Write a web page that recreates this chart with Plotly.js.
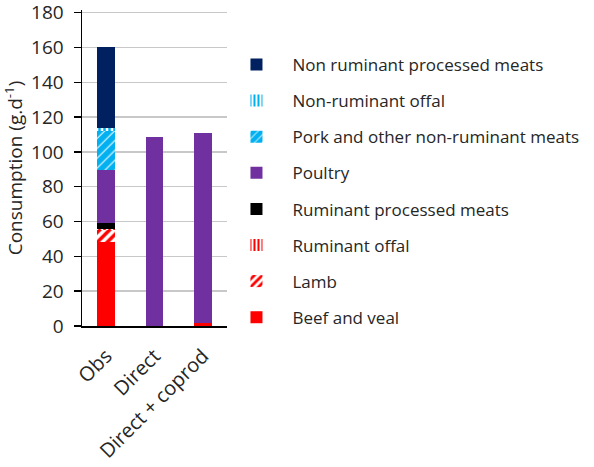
<!DOCTYPE html>
<html>
<head>
<meta charset="utf-8">
<script src="https://cdn.plot.ly/plotly-3.0.1.min.js"></script>
<style>html,body{margin:0;padding:0;background:#fff;}#chart{width:594px;height:467px;}</style>
</head>
<body>
<div id="chart"></div>
<script>
// Categories (scenarios)
var categories = ["Obs", "Direct", "Direct + coprod"];

// Series values (g/d), bottom to top of the stack
var beefVeal            = [48.3, 0, 1.9];
var lamb                = [7.0, 0, 0];
var ruminantOffal       = [0.2, 0, 0];
var ruminantProcessed   = [3.6, 0, 0];
var poultry             = [30.6, 108.4, 108.8];
var porkOtherNonRum     = [22.5, 0, 0];
var nonRuminantOffal    = [1.5, 0, 0];
var nonRuminantProcessed= [46.4, 0, 0];

var seriesNames = [
  "Beef and veal", "Lamb", "Ruminant offal", "Ruminant processed meats",
  "Poultry", "Pork and other non-ruminant meats", "Non-ruminant offal",
  "Non ruminant processed meats"
];
var seriesValues = [beefVeal, lamb, ruminantOffal, ruminantProcessed,
  poultry, porkOtherNonRum, nonRuminantOffal, nonRuminantProcessed];

var yTicks = [0, 20, 40, 60, 80, 100, 120, 140, 160, 180];

// Styles
var fills = [
  {color: "#ff0000"},
  {color: "#ffffff", pattern: {shape: "/", fgcolor: "#ff0000", bgcolor: "#ffffff", size: 7, solidity: 0.5}},
  {color: "#ffffff", pattern: {shape: "|", fgcolor: "#ff0000", bgcolor: "#ffffff", size: 5, solidity: 0.5}},
  {color: "#000000"},
  {color: "#7030a0"},
  {color: "#ffffff", pattern: {shape: "/", fgcolor: "#00b0f0", bgcolor: "#ffffff", size: 7, solidity: 0.85}},
  {color: "#ffffff", pattern: {shape: "|", fgcolor: "#00b0f0", bgcolor: "#ffffff", size: 5, solidity: 0.5}},
  {color: "#002060"}
];

var FONT = "Open Sans, sans-serif";

var traces = seriesNames.map(function(name, i) {
  var m = {color: fills[i].color, line: {width: 0}};
  if (fills[i].pattern) m.pattern = fills[i].pattern;
  return {
    type: "bar",
    name: name,
    x: categories,
    y: seriesValues[i],
    marker: m,
    legendgroup: "g" + i,
    legendrank: 1000 - i,
    hoverinfo: "x+y+name"
  };
});

var layout = {
  width: 594,
  height: 467,
  margin: {l: 82, r: 356, t: 10, b: 141},
  paper_bgcolor: "#ffffff",
  plot_bgcolor: "#ffffff",
  barmode: "stack",
  bargap: 0.63,
  showlegend: true,
  font: {family: FONT, color: "#262626"},
  legend: {
    x: 0.955, xanchor: "left",
    y: 0.883, yanchor: "top",
    traceorder: "grouped",
    tracegroupgap: 11,
    itemwidth: 62,
    entrywidth: 290,
    entrywidthmode: "pixels",
    font: {family: FONT, size: 17, color: "#262626"},
    bgcolor: "rgba(0,0,0,0)"
  },
  xaxis: {
    type: "category",
    range: [-0.5, 2.5],
    tickangle: -45,
    ticklabelstandoff: 9,
    tickfont: {family: FONT, size: 20, color: "#262626"},
    showline: true, linecolor: "#000000", linewidth: 1.5,
    ticks: "", showgrid: false, zeroline: false,
    fixedrange: true
  },
  yaxis: {
    range: [0, 181.5],
    tickvals: yTicks,
    ticktext: yTicks.map(String),
    ticklabeloverflow: "allow",
    ticklabelstandoff: 6,
    tickfont: {family: FONT, size: 19, color: "#262626"},
    ticks: "outside", ticklen: 7, tickcolor: "#000000", tickwidth: 1.5,
    showline: true, linecolor: "#000000", linewidth: 1.5,
    showgrid: true, gridcolor: "#c8c8c8", gridwidth: 1.5,
    zeroline: false,
    title: {text: "Consumption (g.d<sup>-1</sup>)", font: {family: FONT, size: 19, color: "#262626"}, standoff: 3},
    fixedrange: true
  }
};

Plotly.newPlot("chart", traces, layout, {displayModeBar: false, staticPlot: true});
</script>
</body>
</html>
